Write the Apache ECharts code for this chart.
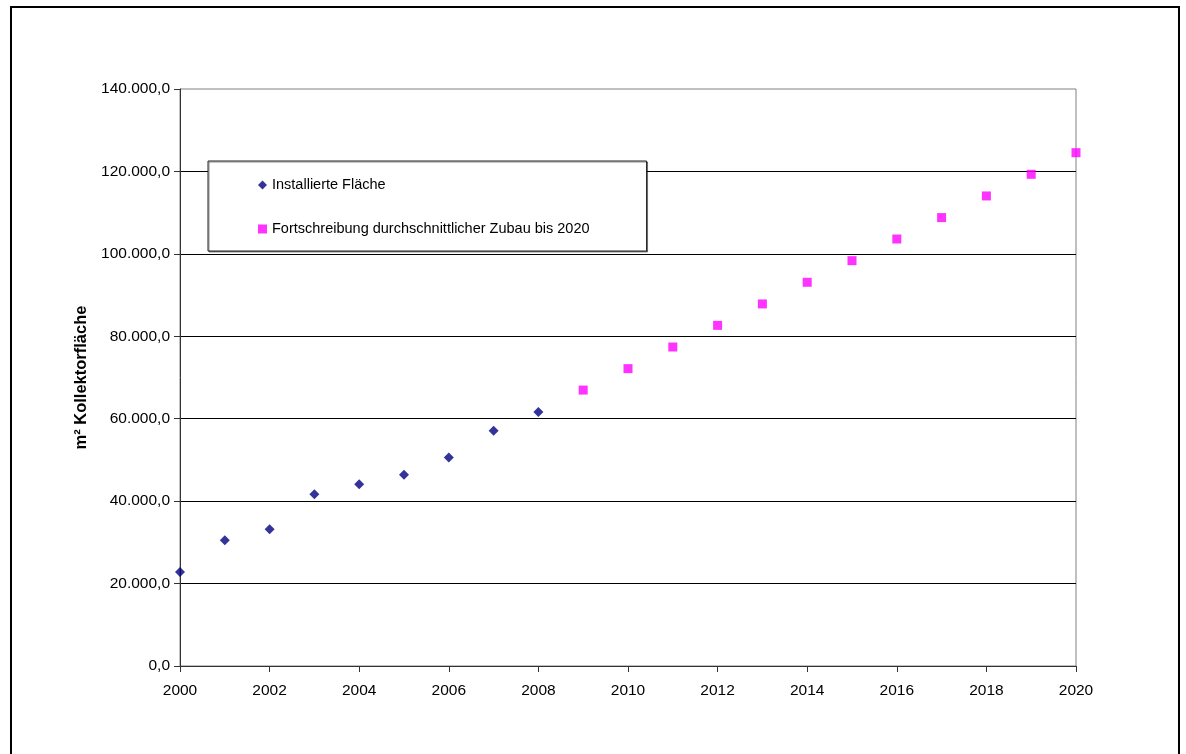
<!DOCTYPE html>
<html>
<head>
<meta charset="utf-8">
<script src="https://cdn.jsdelivr.net/npm/echarts@6/dist/echarts.min.js"></script>
<style>
html,body{margin:0;padding:0;background:#fff;}
#chart{width:1186px;height:754px;}
</style>
</head>
<body>
<div id="chart"></div>
<script>
// Data
const installedYears = [2000, 2001, 2002, 2003, 2004, 2005, 2006, 2007, 2008];
const installedValues = [22800, 30500, 33200, 41700, 44100, 46400, 50600, 57100, 61600];
const projectedYears = [2009, 2010, 2011, 2012, 2013, 2014, 2015, 2016, 2017, 2018, 2019, 2020];
const projectedValues = [66950, 72150, 77400, 82650, 87850, 93100, 98350, 103600, 108800, 114050, 119300, 124550];
const seriesNames = ['Installierte Fläche', 'Fortschreibung durchschnittlicher Zubau bis 2020'];
const yAxisTitle = 'm² Kollektorfläche';

function fmtDE(v) {
  const s = Math.round(v).toString().replace(/\B(?=(\d{3})+(?!\d))/g, '.');
  return s + ',0';
}

const FONT = '"Liberation Sans", Arial, sans-serif';
const chart = echarts.init(document.getElementById('chart'), null, {renderer: 'canvas'});
chart.setOption({
  animation: false,
  backgroundColor: '#fff',
  textStyle: {fontFamily: FONT},
  graphic: [{
    type: 'rect', z: 100, silent: true,
    shape: {x: 11, y: 7, width: 1168, height: 800},
    style: {fill: 'none', stroke: '#000', lineWidth: 2}
  }],
  grid: {
    left: 180, top: 89, right: 110, bottom: 88,
    show: true, borderColor: '#808080', borderWidth: 1, backgroundColor: '#fff'
  },
  legend: {
    orient: 'vertical', left: 208, top: 161,
    padding: [16, 57, 14, 50],
    itemGap: 28, itemWidth: 9, itemHeight: 9,
    backgroundColor: '#fff',
    borderColor: '#222', borderWidth: 1,
    shadowColor: 'rgba(0,0,0,0.45)', shadowOffsetX: 1, shadowOffsetY: 1, shadowBlur: 0,
    textStyle: {fontFamily: FONT, fontSize: 14.5, color: '#000', lineHeight: 16},
    data: [
      {name: seriesNames[0], icon: 'diamond'},
      {name: seriesNames[1], icon: 'rect'}
    ]
  },
  xAxis: {
    type: 'value', min: 2000, max: 2020, interval: 2,
    axisLine: {show: true, lineStyle: {color: '#333', width: 1}},
    axisTick: {show: true, inside: false, length: 6, lineStyle: {color: '#333'}},
    axisLabel: {fontFamily: FONT, fontSize: 15.5, color: '#000', margin: 17, formatter: v => String(v)},
    splitLine: {show: false}
  },
  yAxis: {
    type: 'value', min: 0, max: 140000, interval: 20000,
    name: yAxisTitle, nameLocation: 'middle', nameGap: 87, nameRotate: 90,
    nameTextStyle: {fontFamily: FONT, fontSize: 16.5, fontWeight: 'bold', color: '#000', padding: [0, 0, 0, 0]},
    axisLine: {show: true, lineStyle: {color: '#333', width: 1}},
    axisTick: {show: true, inside: false, length: 6, lineStyle: {color: '#333'}},
    axisLabel: {fontFamily: FONT, fontSize: 15.5, color: '#000', margin: 10, formatter: fmtDE},
    splitLine: {show: true, showMinLine: false, showMaxLine: false, lineStyle: {color: '#000', width: 1}}
  },
  series: [
    {
      name: seriesNames[0], type: 'scatter', symbol: 'diamond', symbolSize: 10,
      itemStyle: {color: '#000080'},
      data: installedYears.map((y, i) => [y, installedValues[i]])
    },
    {
      name: seriesNames[1], type: 'scatter', symbol: 'rect', symbolSize: 9,
      itemStyle: {color: '#FF00FF'},
      data: projectedYears.map((y, i) => [y, projectedValues[i]])
    }
  ]
});
</script>
</body>
</html>
